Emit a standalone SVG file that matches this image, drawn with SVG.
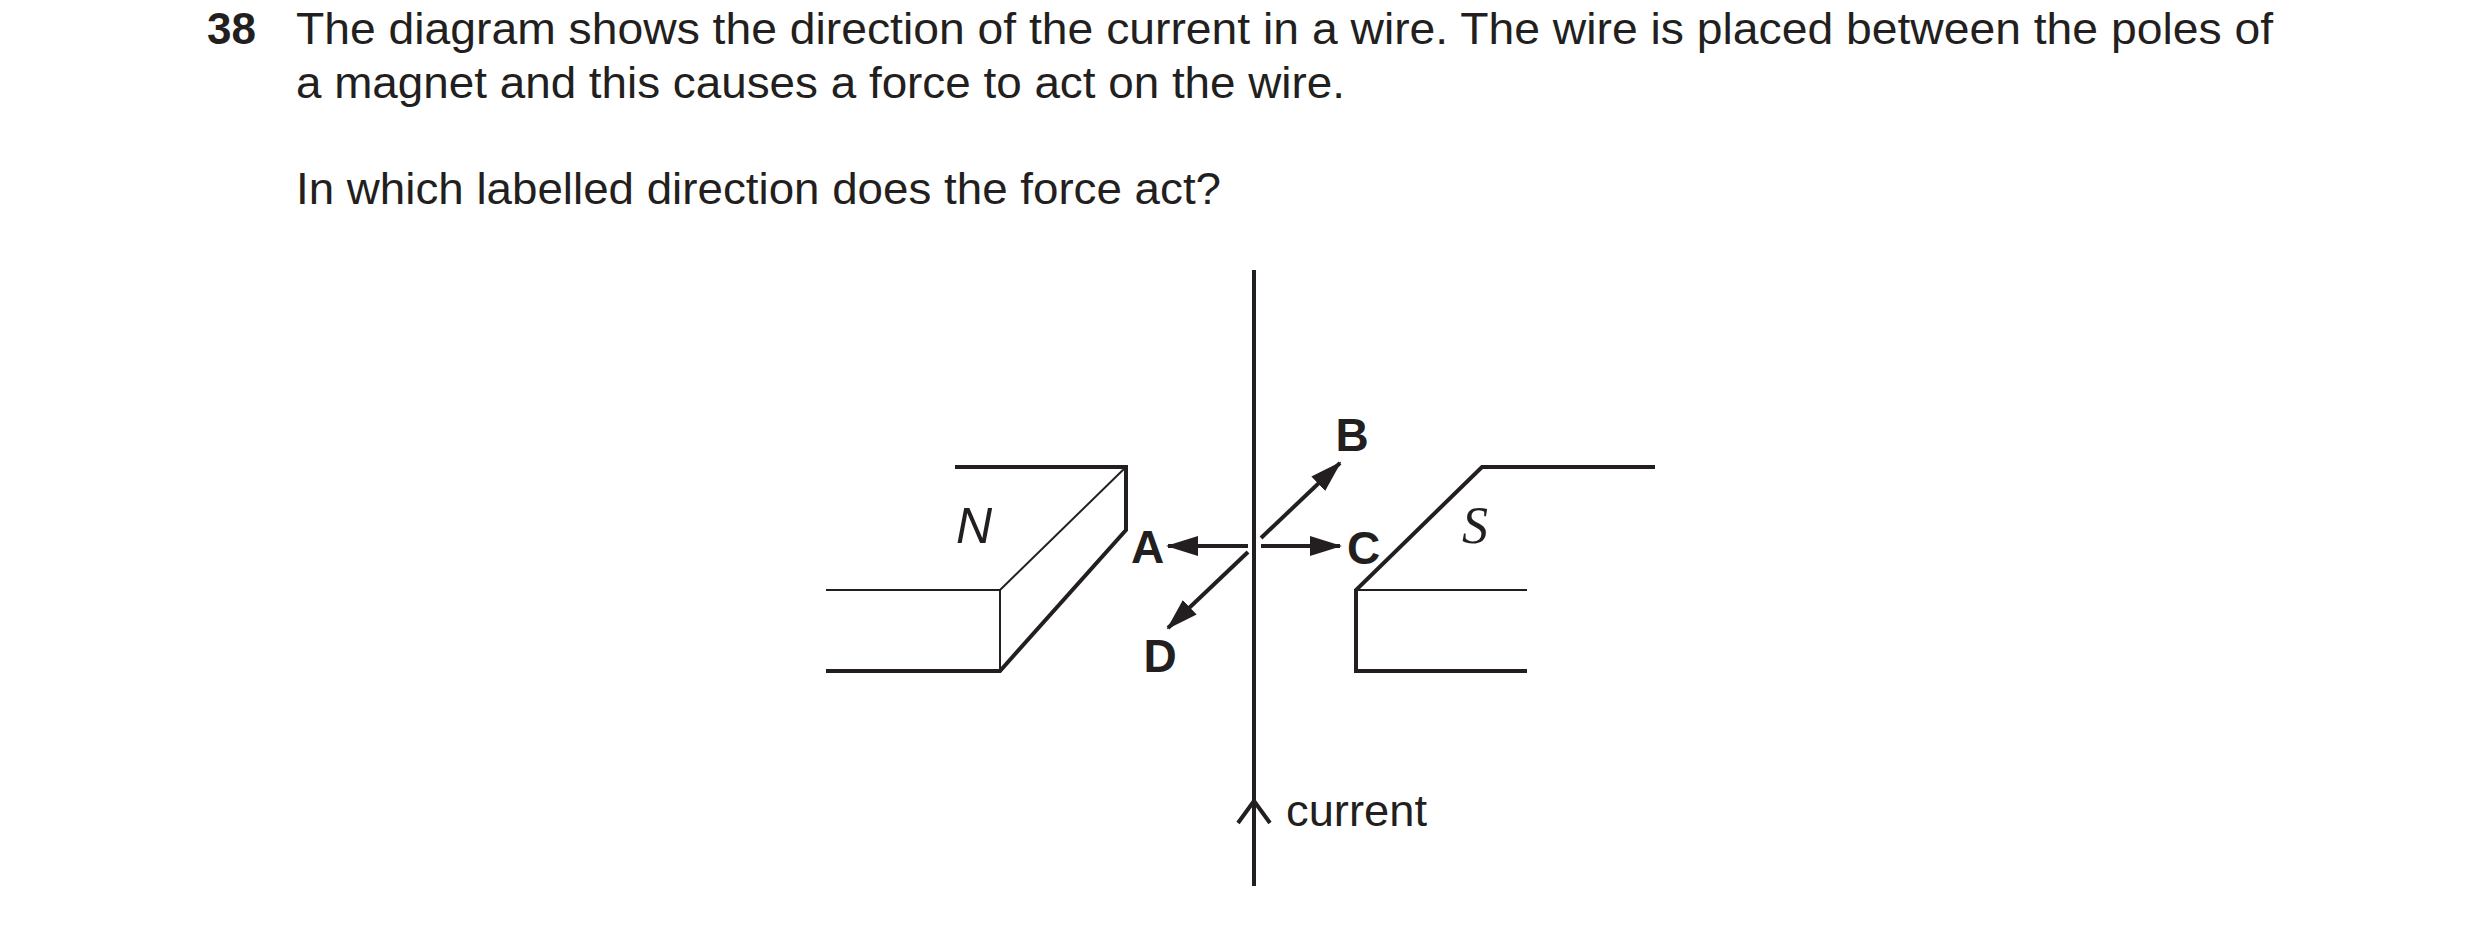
<svg xmlns="http://www.w3.org/2000/svg" width="2480" height="927" viewBox="0 0 2480 927">
<style>
.t{font-family:"Liberation Sans",Arial,sans-serif;font-size:44px;fill:#231f20}
.b{font-family:"Liberation Sans",Arial,sans-serif;font-weight:bold;fill:#231f20}
.k{stroke:#231f20;stroke-width:4;fill:none}
.th{stroke:#231f20;stroke-width:2;fill:none}
</style>
<defs>
<marker id="ah" markerWidth="32" markerHeight="20" refX="30" refY="10" orient="auto" markerUnits="userSpaceOnUse" viewBox="0 0 32 20">
<path d="M0,0 L32,10 L0,20 Z" fill="#231f20"/>
</marker>
</defs>
<rect width="2480" height="927" fill="#fff"/>
<text class="b" x="207" y="44" font-size="44">38</text>
<text class="t" x="296" y="44" textLength="1977" lengthAdjust="spacingAndGlyphs">The diagram shows the direction of the current in a wire. The wire is placed between the poles of</text>
<text class="t" x="296" y="98" textLength="1049" lengthAdjust="spacingAndGlyphs">a magnet and this causes a force to act on the wire.</text>
<text class="t" x="296" y="204" textLength="925" lengthAdjust="spacingAndGlyphs">In which labelled direction does the force act?</text>
<g id="wire">
<line class="k" x1="1254" y1="270" x2="1254" y2="886"/>
<polyline class="k" points="1238,823 1254,801 1270,823"/>
<text class="t" x="1286" y="826" textLength="141" lengthAdjust="spacingAndGlyphs">current</text>
</g>
<g id="magnet-N">
<polyline class="k" points="955,467 1126,467 1126,530 1000,671 826,671"/>
<polyline class="th" points="826,590 1000,590 1000,671"/>
<line class="th" x1="1000" y1="590" x2="1126" y2="467"/>
<text x="956" y="543" font-family="Liberation Sans,sans-serif" font-style="italic" font-size="50" fill="#231f20">N</text>
</g>
<g id="magnet-S">
<polyline class="k" points="1655,467 1482,467 1356,590 1356,671 1527,671"/>
<line class="th" x1="1356" y1="590" x2="1527" y2="590"/>
<text x="1462" y="543" font-family="Liberation Serif,serif" font-style="italic" font-size="52" fill="#231f20">S</text>
</g>
<g id="connectors" stroke="#231f20" stroke-width="4" fill="none">
<path d="M1248,546 L1168,546" marker-end="url(#ah)"/>
<path d="M1261,546 L1340,546" marker-end="url(#ah)"/>
<path d="M1261,538 L1340,463" marker-end="url(#ah)"/>
<path d="M1248,552 L1168,628" marker-end="url(#ah)"/>
</g>
<g id="labels">
<text class="b" x="1131" y="563" font-size="46">A</text>
<text class="b" x="1352" y="451" font-size="46" text-anchor="middle">B</text>
<text class="b" x="1347" y="564" font-size="46">C</text>
<text class="b" x="1160" y="672" font-size="46" text-anchor="middle">D</text>
</g>
</svg>
